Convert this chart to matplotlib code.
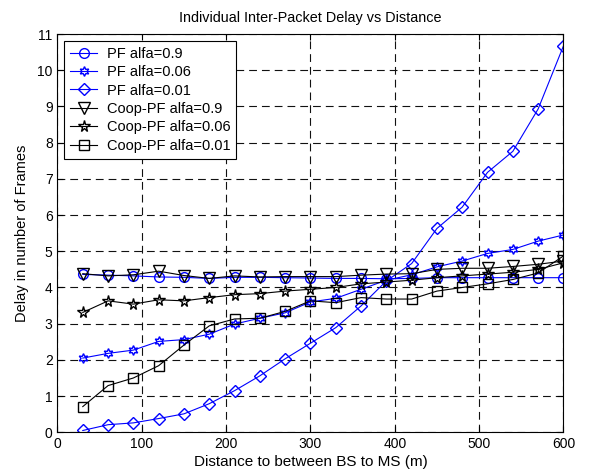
import numpy as np
import matplotlib.pyplot as plt

plt.rcParams['font.family'] = ['Liberation Sans', 'DejaVu Sans']
plt.rcParams['figure.dpi'] = 100

distance = [30, 60, 90, 120, 150, 180, 210, 240, 270, 300,
            330, 360, 390, 420, 450, 480, 510, 540, 570, 600]

pf_09 = [4.36, 4.34, 4.32, 4.29, 4.28, 4.25, 4.28, 4.28, 4.27, 4.26,
         4.25, 4.25, 4.24, 4.25, 4.27, 4.27, 4.27, 4.27, 4.27, 4.27]
pf_006 = [2.05, 2.18, 2.27, 2.51, 2.56, 2.71, 2.99, 3.15, 3.3, 3.6,
          3.7, 3.95, 4.2, 4.35, 4.57, 4.73, 4.94, 5.05, 5.28, 5.45]
pf_001 = [0.05, 0.21, 0.26, 0.38, 0.51, 0.79, 1.15, 1.56, 2.03, 2.46,
          2.89, 3.49, 4.18, 4.66, 5.63, 6.22, 7.18, 7.76, 8.93, 10.67]
coop_09 = [4.38, 4.32, 4.35, 4.45, 4.33, 4.25, 4.32, 4.29, 4.3, 4.3,
           4.3, 4.34, 4.37, 4.38, 4.5, 4.53, 4.53, 4.58, 4.64, 4.73]
coop_006 = [3.31, 3.63, 3.54, 3.66, 3.63, 3.72, 3.8, 3.83, 3.9, 3.95,
            4.0, 4.1, 4.15, 4.2, 4.27, 4.32, 4.37, 4.42, 4.5, 4.68]
coop_001 = [0.71, 1.29, 1.5, 1.84, 2.41, 2.94, 3.13, 3.15, 3.34, 3.63,
            3.58, 3.72, 3.68, 3.68, 3.9, 4.0, 4.1, 4.22, 4.4, 4.87]

labels = ['PF alfa=0.9', 'PF alfa=0.06', 'PF alfa=0.01',
          'Coop-PF alfa=0.9', 'Coop-PF alfa=0.06', 'Coop-PF alfa=0.01']

fig = plt.figure(figsize=(5.89, 4.75))
ax = fig.add_axes([0.0976, 0.0899, 0.859, 0.8385])

blue = (0, 0, 1)
lw = 0.8
ax.plot(distance, pf_09, color=blue, marker='o', mfc='none', ms=7, lw=lw, label=labels[0])
ax.plot(distance, pf_006, color=blue, marker=(6, 1, 0), mfc='none', ms=7, lw=lw, label=labels[1])
ax.plot(distance, pf_001, color=blue, marker='D', mfc='none', ms=6.5, lw=lw, label=labels[2])
ax.plot(distance, coop_09, color='k', marker='v', mfc='none', ms=8, lw=lw, label=labels[3])
ax.plot(distance, coop_006, color='k', marker='*', mfc='none', ms=8.5, lw=lw, label=labels[4])
ax.plot(distance, coop_001, color='k', marker='s', mfc='none', ms=7, lw=lw, label=labels[5])

ax.set_xlim(0, 600)
ax.set_ylim(0, 11)
ax.set_xticks(np.arange(0, 601, 100))
ax.set_yticks(np.arange(0, 12, 1))
ax.grid(True, color='#111111', linestyle=(0, (7, 4.5)), linewidth=0.8)
ax.tick_params(direction='in', top=True, right=True, labelsize=10, length=4)
for s in ax.spines.values():
    s.set_linewidth(0.8)

ax.set_title('Individual Inter-Packet Delay vs Distance', fontsize=10.4, pad=9)
ax.set_xlabel('Distance to between BS to MS (m)', fontsize=11, labelpad=3)
ax.set_ylabel('Delay in number of Frames', fontsize=10.5, labelpad=6)

leg = ax.legend(loc='upper left', bbox_to_anchor=(7 / 506, 1 - 7 / 398), borderaxespad=0,
                fontsize=10.5, fancybox=False, framealpha=1, edgecolor='k',
                handlelength=1.85, handletextpad=0.65, labelspacing=0.3, borderpad=0.4)
leg.get_frame().set_linewidth(0.8)

plt.savefig('out.png')
